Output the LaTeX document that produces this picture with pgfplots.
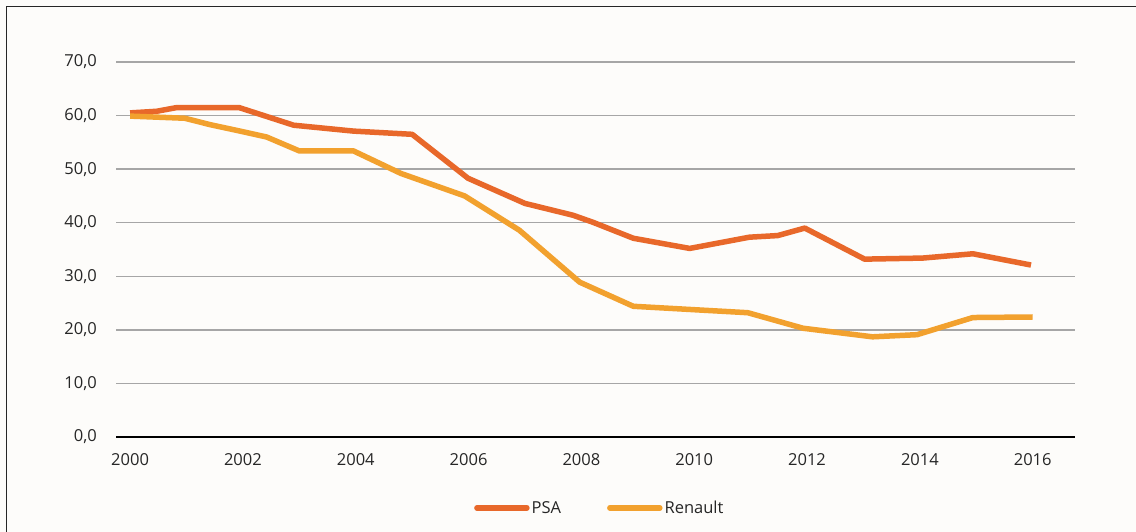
\documentclass[border=0pt]{standalone}
\usepackage{pgfplots}
\pgfplotsset{compat=1.18}
\usepackage{fontspec}
\setmainfont{Open Sans}
\definecolor{psa}{HTML}{E8682A}
\definecolor{ren}{HTML}{F2A12E}
\definecolor{bg}{HTML}{FDFCFA}
\definecolor{gridc}{HTML}{A6A6A6}
\definecolor{txt}{HTML}{262626}
\begin{document}
\begin{tikzpicture}[x=1pt,y=1pt]
\useasboundingbox (0,0) rectangle (1136,532);
\fill[bg] (0,0) rectangle (1136,532);
\draw[line width=1.2pt, black!85] (6.5,0) -- (6.5,525.5) -- (1136,525.5);
\begin{axis}[
  at={(116pt,95pt)}, anchor=south west,
  scale only axis, width=959pt, height=375pt,
  xmin=1999.75, xmax=2016.75, ymin=0, ymax=70,
  axis line style={draw=none},
  xtick={2000,2002,...,2016},
  ytick={0,10,...,70},
  major tick length=0pt,
  ymajorgrids, grid style={gridc, line width=1.3pt},
  font=\fontsize{16.5}{19}\selectfont\color{txt},
  /pgf/number format/assume math mode=true,
  xticklabel style={/pgf/number format/1000 sep={}, anchor=north, inner sep=0pt, yshift=-16pt},
  yticklabel style={/pgf/number format/.cd, fixed, fixed zerofill, precision=1, use comma, /tikz/.cd, anchor=east, inner sep=0pt, xshift=-19pt},
  legend columns=2,
  legend style={at={(0.5045,-0.189)}, anchor=center, draw=none, fill=none,
    font=\fontsize{16.5}{19}\selectfont\color{txt},
    nodes={inner sep=2pt},
    /tikz/every even column/.append style={column sep=44pt}},
  legend image code/.code={\draw[#1, line cap=round] (0pt,0pt) -- (50pt,0pt);},
  clip=false,
]
\draw[black, line width=2.4pt] (rel axis cs:0,0) -- (rel axis cs:1,0);
\addplot[psa, line width=5.5pt, line join=round] coordinates {
(2000,60.5) (2000.47,60.8) (2000.83,61.5) (2001.93,61.5) (2002.9,58.2)
(2003.96,57.1) (2005.0,56.5) (2005.99,48.3) (2007.0,43.6) (2007.85,41.4)
(2008.2,40.1) (2008.92,37.1) (2009.92,35.2) (2010.98,37.3) (2011.48,37.6)
(2011.96,39.0) (2013.02,33.2) (2014.05,33.4) (2014.94,34.2) (2015.97,32.1)
};
\addlegendentry{PSA}
\addplot[ren, line width=5.5pt, line join=round] coordinates {
(2000,59.9) (2000.97,59.5) (2001.42,58.3) (2001.95,57.1) (2002.42,56.0)
(2003.0,53.4) (2003.96,53.4) (2004.8,49.2) (2005.93,45.0) (2006.9,38.6)
(2007.97,28.9) (2008.92,24.4) (2010.95,23.2) (2011.93,20.3) (2013.16,18.7)
(2013.95,19.1) (2014.94,22.3) (2016,22.4)
};
\addlegendentry{Renault}
\end{axis}
\end{tikzpicture}
\end{document}
